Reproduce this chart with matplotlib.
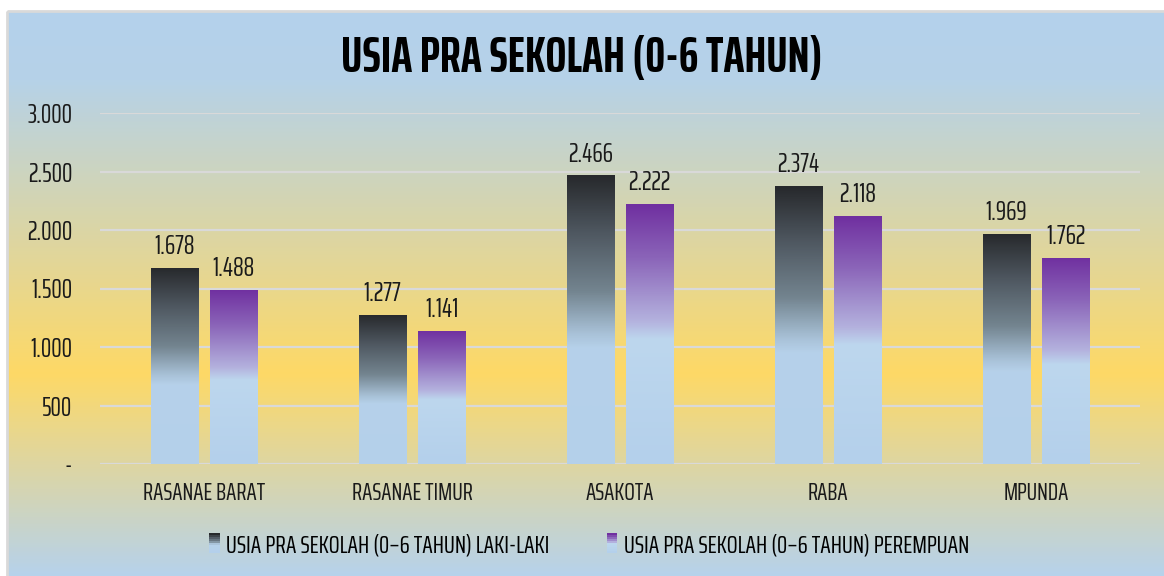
import numpy as np
import matplotlib
matplotlib.use("Agg")
import matplotlib.pyplot as plt
from matplotlib import font_manager as fm
from matplotlib.colors import LinearSegmentedColormap
from matplotlib.patches import Rectangle
from matplotlib.legend_handler import HandlerBase


def wnum(w):
    if isinstance(w, str):
        return fm.weight_dict.get(w, 400)
    return int(w)


# look for a narrow font that also has a bold face (the original uses Agency FB)
families = {}
for f in fm.fontManager.ttflist:
    if 'Narrow' in f.name or 'Condensed' in f.name:
        families.setdefault(f.name, set()).add(wnum(f.weight))
ranked = []
for name, ws in families.items():
    score = 0
    if any(w >= 700 for w in ws):
        score += 10
    if any(350 <= w <= 450 for w in ws):
        score += 5
    if 'ExtraCondensed' in name.replace(' ', '') or 'Narrow' in name:
        score += 3
    elif 'SemiCondensed' in name.replace(' ', ''):
        score += 0
    else:
        score += 2
    ranked.append((score, name))
ranked.sort(reverse=True)
if ranked:
    plt.rcParams['font.family'] = [ranked[0][1], 'DejaVu Sans']
else:
    plt.rcParams['font.family'] = ['DejaVu Sans']

# data
kecamatan = ["RASANAE BARAT", "RASANAE TIMUR", "ASAKOTA", "RABA", "MPUNDA"]
laki = [1678, 1277, 2466, 2374, 1969]
perempuan = [1488, 1141, 2222, 2118, 1762]
series_names = ["USIA PRA SEKOLAH (0\u20136 TAHUN) LAKI-LAKI",
                "USIA PRA SEKOLAH (0\u20136 TAHUN) PEREMPUAN"]
title = "USIA PRA SEKOLAH (0-6 TAHUN)"
yticks = [0, 500, 1000, 1500, 2000, 2500, 3000]

W, H = 1164, 576
fig = plt.figure(figsize=(W / 100, H / 100), dpi=100)

# background gradient (blue - yellow - blue)
bg = fig.add_axes([0, 0, 1, 1], zorder=-10)
bg.set_xlim(0, W)
bg.set_ylim(H, 0)
bg.axis('off')
bg_cmap = LinearSegmentedColormap.from_list(
    'bg', [(0.0, '#b4d1ec'), (0.12, '#b6d2e8'), (0.64, '#fed966'), (1.0, '#b6d2ec')])
grad = np.linspace(0, 1, 400).reshape(-1, 1)
bg.imshow(grad, cmap=bg_cmap, extent=[7, W + 10, 578, 11], aspect='auto')
bg.add_patch(Rectangle((7, 11), W, 600, fill=False, edgecolor='#d9d9d9', lw=2))

# bar gradients (top -> bottom)
dark_cmap = LinearSegmentedColormap.from_list(
    'dark', [(0.0, '#27292c'), (0.2, '#4f5861'), (0.4, '#73848f'),
             (0.55, '#a9c2d8'), (0.6, '#b6d1ea'), (1.0, '#b4d0eb')])
purp_cmap = LinearSegmentedColormap.from_list(
    'purp', [(0.0, '#7030a0'), (0.2, '#8a63b8'), (0.45, '#b4b2de'),
             (0.52, '#bdd7ee'), (1.0, '#b4d0eb')])

ax = fig.add_axes([100 / W, 112 / H, 1040 / W, 351 / H])
ax.patch.set_alpha(0)
for s in ax.spines.values():
    s.set_visible(False)

x = np.arange(len(kecamatan))
bw = 0.226
off = 0.142
for vals, cmap, sign in [(laki, dark_cmap, -1), (perempuan, purp_cmap, 1)]:
    bars = ax.bar(x + sign * off, vals, bw, color='none', zorder=3)
    for b, v in zip(bars, vals):
        x0 = b.get_x()
        im = ax.imshow(grad, cmap=cmap, extent=[x0, x0 + bw, 0, v],
                       aspect='auto', zorder=3)
        im.set_clip_path(b)
        ax.text(b.get_x() + bw / 2, v + 75, f"{v:,}".replace(',', '.'),
                ha='center', va='bottom', fontsize=19, color='#1a1a1a')

ax.set_xlim(-0.5, len(kecamatan) - 0.5)
ax.set_ylim(0, 3000)
ax.set_yticks(yticks)
ax.set_yticklabels(['-' if t == 0 else f"{t:,}".replace(',', '.') for t in yticks])
ax.set_xticks(x)
ax.set_xticklabels(kecamatan)
ax.tick_params(axis='y', length=0, pad=20, labelsize=19, labelcolor='#1a1a1a')
ax.tick_params(axis='x', length=0, pad=12, labelsize=18, labelcolor='#1a1a1a')
ax.grid(axis='y', color='#d9d9d9', lw=1.6, zorder=1)
ax.set_axisbelow(True)

fig.text(0.5, 1 - 58 / H, title, ha='center', va='center',
         fontsize=36, fontweight='bold', color='black')


class GradHandler(HandlerBase):
    def __init__(self, cmap):
        super().__init__()
        self.cmap = cmap

    def create_artists(self, legend, orig_handle, xdescent, ydescent,
                       width, height, fontsize, trans):
        n = 10
        w = height * 0.6
        hh = height * 1.1
        arts = []
        for i in range(n):
            r = Rectangle((width - w, -ydescent + hh - (i + 1) * hh / n - 0.05 * height),
                          w, hh / n, facecolor=self.cmap(i / (n - 1)),
                          edgecolor='none', transform=trans)
            arts.append(r)
        return arts


h1 = Rectangle((0, 0), 1, 1)
h2 = Rectangle((0, 0), 1, 1)
leg = fig.legend([h1, h2], series_names, loc='center',
                 bbox_to_anchor=(588 / W, 1 - 545 / H), ncol=2, frameon=False,
                 fontsize=18.5, handlelength=0.5, handletextpad=0.25, columnspacing=2.15,
                 handler_map={h1: GradHandler(dark_cmap), h2: GradHandler(purp_cmap)})

fig.savefig('out.png', dpi=100)
